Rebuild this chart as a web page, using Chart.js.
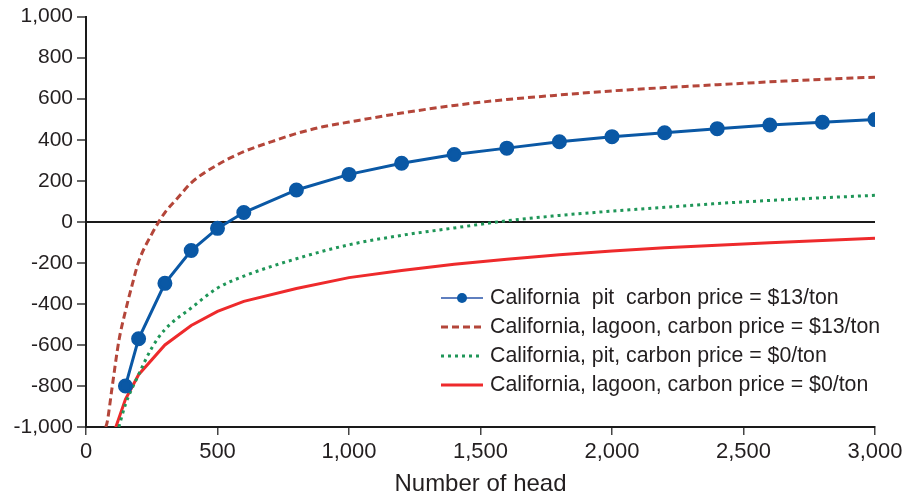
<!DOCTYPE html>
<html>
<head>
<meta charset="utf-8">
<script src="https://cdn.jsdelivr.net/npm/chart.js@4/dist/chart.umd.min.js"></script>
<style>
  html, body { margin: 0; padding: 0; background: #fff; }
  #wrap { width: 911px; height: 500px; position: relative; }
</style>
</head>
<body>
<div id="wrap"><canvas id="headChart"></canvas></div>
<script>
// Net returns by herd size (number of head)
const seriesNames = [
    'California  pit  carbon price = $13/ton',
    'California, lagoon, carbon price = $13/ton',
    'California, pit, carbon price = $0/ton',
    'California, lagoon, carbon price = $0/ton'
];

// pit, $13/ton (markers)
const pit13X = [150, 200, 300, 400, 500, 600, 800, 1000, 1200, 1400, 1600, 1800, 2000, 2200, 2400, 2600, 2800, 3000];
const pit13Y = [-800, -570, -300, -140, -32, 45, 155, 231, 285, 328, 359, 390, 415, 434, 454, 472, 485, 498];

// lagoon, $13/ton (dashed)
const lagoon13X = [75, 80, 100, 125, 150, 175, 200, 250, 300, 350, 400, 500, 600, 700, 800, 900, 1000, 1200, 1400, 1600, 1800, 2000, 2200, 2400, 2600, 2800, 3000];
const lagoon13Y = [-1000, -980, -800, -580, -435, -310, -195, -60, 45, 118, 190, 278, 342, 388, 430, 463, 486, 530, 567, 596, 618, 638, 654, 668, 682, 694, 705];

// pit, $0/ton (dotted)
const pit0X = [125, 150, 200, 250, 300, 400, 500, 600, 800, 1000, 1200, 1400, 1600, 1800, 2000, 2200, 2400, 2600, 2800, 3000];
const pit0Y = [-1000, -890, -745, -615, -525, -420, -323, -265, -180, -112, -66, -30, 5, 31, 52, 71, 89, 104, 117, 129];

// lagoon, $0/ton (solid)
const lagoon0X = [100, 150, 200, 300, 400, 500, 600, 800, 1000, 1200, 1400, 1600, 1800, 2000, 2200, 2400, 2600, 2800, 3000];
const lagoon0Y = [-1050, -865, -745, -600, -505, -437, -388, -325, -272, -237, -207, -182, -160, -142, -127, -114, -102, -91, -80];

const xTicks = [0, 500, 1000, 1500, 2000, 2500, 3000];
const yTicks = [-1000, -800, -600, -400, -200, 0, 200, 400, 600, 800, 1000];

function toPoints(xs, ys) {
    return xs.map((x, i) => ({ x: x, y: ys[i] }));
}

const fontFamily = '"Liberation Sans", Arial, Helvetica, sans-serif';

// Legend drawn inside the plot area
const insideLegend = {
    id: 'insideLegend',
    afterDraw(chart) {
        const ctx = chart.ctx;
        const x0 = 441, x1 = 483, textX = 490;
        const rows = [298, 327, 356, 385];
        ctx.save();
        ctx.font = '21.3px ' + fontFamily;
        ctx.textBaseline = 'middle';
        ctx.fillStyle = '#231f20';
        chart.data.datasets.forEach((ds, i) => {
            const y = rows[i];
            ctx.beginPath();
            ctx.strokeStyle = i === 0 ? '#5f7fbf' : ds.borderColor;
            ctx.lineWidth = i === 0 ? 2 : ds.borderWidth;
            ctx.setLineDash(ds.borderDash || []);
            ctx.moveTo(x0, y);
            ctx.lineTo(x1, y);
            ctx.stroke();
            ctx.setLineDash([]);
            if (ds.pointRadius) {
                ctx.beginPath();
                ctx.fillStyle = ds.pointBackgroundColor;
                ctx.arc((x0 + x1) / 2, y, 5, 0, Math.PI * 2);
                ctx.fill();
                ctx.fillStyle = '#231f20';
            }
            ctx.fillText(seriesNames[i], textX, y);
        });
        ctx.restore();
    }
};

new Chart(document.getElementById('headChart'), {
    type: 'line',
    data: {
        datasets: [{
            label: seriesNames[0],
            data: toPoints(pit13X, pit13Y),
            borderColor: '#0a58a5',
            backgroundColor: '#0a58a5',
            pointBackgroundColor: '#0a58a5',
            pointBorderColor: '#0a58a5',
            pointRadius: 6,
            borderWidth: 3,
            tension: 0
        }, {
            label: seriesNames[1],
            data: toPoints(lagoon13X, lagoon13Y),
            borderColor: '#b4463a',
            borderDash: [7, 4],
            borderWidth: 3,
            pointRadius: 0,
            cubicInterpolationMode: 'monotone'
        }, {
            label: seriesNames[2],
            data: toPoints(pit0X, pit0Y),
            borderColor: '#1f9658',
            borderDash: [3, 4],
            borderWidth: 3,
            pointRadius: 0,
            cubicInterpolationMode: 'monotone'
        }, {
            label: seriesNames[3],
            data: toPoints(lagoon0X, lagoon0Y),
            borderColor: '#ee2a2c',
            borderWidth: 3,
            pointRadius: 0,
            tension: 0
        }]
    },
    options: {
        responsive: true,
        maintainAspectRatio: false,
        animation: false,
        layout: {
            padding: { top: 13, right: 36, left: 0, bottom: 0 }
        },
        plugins: {
            legend: { display: false },
            tooltip: { enabled: false }
        },
        scales: {
            x: {
                type: 'linear',
                min: 0,
                max: 3000,
                afterBuildTicks: scale => { scale.ticks = xTicks.map(v => ({ value: v })); },
                afterFit: scale => { scale.height = 73; },
                border: { color: '#1a1a1a', width: 2 },
                grid: {
                    drawOnChartArea: false,
                    tickColor: '#444',
                    tickLength: 8,
                    lineWidth: 1.5
                },
                ticks: {
                    color: '#231f20',
                    font: { family: fontFamily, size: 22 },
                    padding: 4,
                    maxRotation: 0
                },
                title: {
                    display: true,
                    text: 'Number of head',
                    color: '#231f20',
                    font: { family: fontFamily, size: 24 },
                    padding: { top: 0, bottom: 1 }
                }
            },
            y: {
                min: -1000,
                max: 1000,
                afterBuildTicks: scale => { scale.ticks = yTicks.map(v => ({ value: v })); },
                afterFit: scale => { scale.width = 86; },
                border: { color: '#1a1a1a', width: 2 },
                grid: {
                    color: ctx => ctx.tick && ctx.tick.value === 0 ? '#1a1a1a' : 'rgba(0,0,0,0)',
                    lineWidth: 2,
                    tickColor: '#666',
                    tickLength: 9
                },
                ticks: {
                    color: '#231f20',
                    font: { family: fontFamily, size: 21 },
                    padding: 4
                }
            }
        }
    },
    plugins: [insideLegend]
});
</script>
</body>
</html>
